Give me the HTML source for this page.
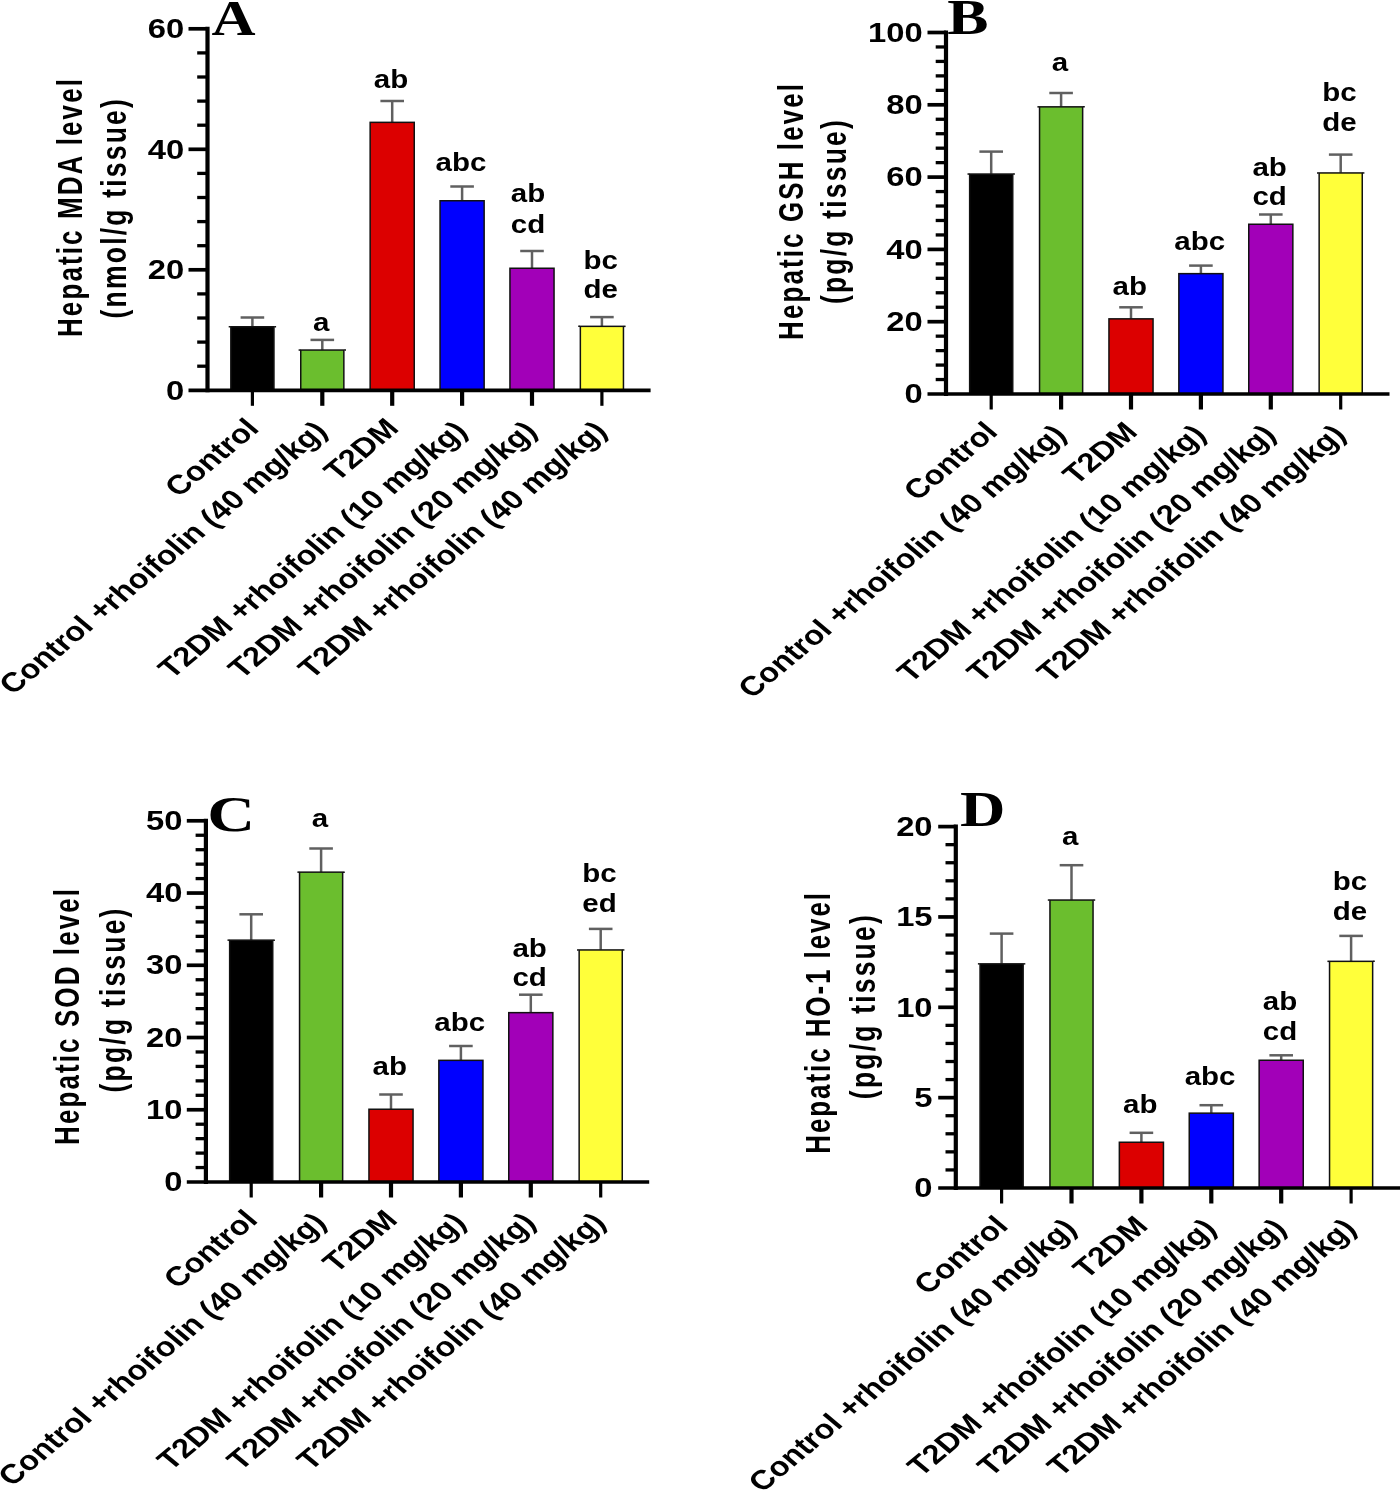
<!DOCTYPE html>
<html>
<head>
<meta charset="utf-8">
<title>Figure</title>
<style>
html, body { margin: 0; padding: 0; background: #ffffff; }
body { width: 1400px; height: 1492px; overflow: hidden; font-family: "Liberation Sans", sans-serif; }
svg { display: block; filter: blur(0.5px); }
text { font-family: "Liberation Sans", sans-serif; font-weight: bold; fill: #000; }
.axv { stroke: #000; stroke-width: 4.2; }
.axh { stroke: #000; stroke-width: 3.7; }
.axe { stroke: #000; stroke-width: 3.2; }
.mn { stroke: #000; stroke-width: 3.3; }
.eb { stroke: #606060; stroke-width: 2.5; }
.bar { stroke: #111; stroke-width: 1.5; }
.bt { stroke: #111; stroke-width: 1.5; }
.an { font-size: 25px; text-anchor: middle; }
.tk { font-size: 28.5px; text-anchor: end; }
.xl { font-size: 27.2px; text-anchor: end; }
.yt { font-size: 26px; letter-spacing: 2.1px; text-anchor: middle; }
.yt2 { font-size: 26.5px; letter-spacing: 2.2px; }
.lt { font-family: "Liberation Serif", serif; font-size: 52px; text-anchor: start; }
</style>
</head>
<body>
<svg width="1400" height="1492" viewBox="0 0 1400 1492">
<rect x="0" y="0" width="1400" height="1492" fill="#ffffff"/>
<g id="panelA">
<line x1="252.4" y1="317.5" x2="252.4" y2="326.6" class="eb"/>
<line x1="240.6" y1="317.5" x2="264.2" y2="317.5" class="eb"/>
<rect x="230.85" y="326.75" width="43.1" height="63.7" fill="#000000" class="bar"/>
<line x1="228.7" y1="326.75" x2="230.5" y2="326.75" class="bt"/>
<line x1="274.3" y1="326.75" x2="276.1" y2="326.75" class="bt"/>
<line x1="322.3" y1="339.9" x2="322.3" y2="349.9" class="eb"/>
<line x1="310.5" y1="339.9" x2="334.1" y2="339.9" class="eb"/>
<rect x="300.75" y="350.05" width="43.1" height="40.4" fill="#6BBE2E" class="bar"/>
<line x1="298.6" y1="350.05" x2="300.4" y2="350.05" class="bt"/>
<line x1="344.2" y1="350.05" x2="346" y2="350.05" class="bt"/>
<text transform="translate(321.1,331.2) scale(1.18,1)" class="an">a</text>
<line x1="392.2" y1="101" x2="392.2" y2="122.2" class="eb"/>
<line x1="380.4" y1="101" x2="404" y2="101" class="eb"/>
<rect x="370.15" y="122.35" width="44.1" height="268.1" fill="#DC0000" class="bar"/>
<text transform="translate(391,87.5) scale(1.18,1)" class="an">ab</text>
<line x1="462.1" y1="186.5" x2="462.1" y2="200.6" class="eb"/>
<line x1="450.3" y1="186.5" x2="473.9" y2="186.5" class="eb"/>
<rect x="440.05" y="200.75" width="44.1" height="189.7" fill="#0000FF" class="bar"/>
<text transform="translate(460.9,170.5) scale(1.18,1)" class="an">abc</text>
<line x1="532" y1="251" x2="532" y2="268.1" class="eb"/>
<line x1="520.2" y1="251" x2="543.8" y2="251" class="eb"/>
<rect x="509.95" y="268.25" width="44.1" height="122.2" fill="#A200B8" class="bar"/>
<text transform="translate(528,202.4) scale(1.18,1)" class="an">ab</text>
<text transform="translate(528,233.2) scale(1.18,1)" class="an">cd</text>
<line x1="601.9" y1="317.1" x2="601.9" y2="326.2" class="eb"/>
<line x1="590.1" y1="317.1" x2="613.7" y2="317.1" class="eb"/>
<rect x="580.35" y="326.35" width="43.1" height="64.1" fill="#FFFF3A" class="bar"/>
<line x1="578.2" y1="326.35" x2="580" y2="326.35" class="bt"/>
<line x1="623.8" y1="326.35" x2="625.6" y2="326.35" class="bt"/>
<text transform="translate(600.7,268.5) scale(1.18,1)" class="an">bc</text>
<text transform="translate(600.7,298.2) scale(1.18,1)" class="an">de</text>
<line x1="207.5" y1="26.8" x2="207.5" y2="392.3" class="axv"/>
<line x1="188.5" y1="390.3" x2="650.6" y2="390.3" class="axh"/>
<text transform="translate(184.2,399.5) scale(1.15,1)" class="tk">0</text>
<line x1="197.2" y1="366.2" x2="207.5" y2="366.2" class="mn"/>
<line x1="197.2" y1="342.1" x2="207.5" y2="342.1" class="mn"/>
<line x1="197.2" y1="318" x2="207.5" y2="318" class="mn"/>
<line x1="197.2" y1="293.9" x2="207.5" y2="293.9" class="mn"/>
<line x1="188.5" y1="269.8" x2="207.5" y2="269.8" class="axh"/>
<text transform="translate(184.2,279) scale(1.15,1)" class="tk">20</text>
<line x1="197.2" y1="245.7" x2="207.5" y2="245.7" class="mn"/>
<line x1="197.2" y1="221.6" x2="207.5" y2="221.6" class="mn"/>
<line x1="197.2" y1="197.5" x2="207.5" y2="197.5" class="mn"/>
<line x1="197.2" y1="173.4" x2="207.5" y2="173.4" class="mn"/>
<line x1="188.5" y1="149.3" x2="207.5" y2="149.3" class="axh"/>
<text transform="translate(184.2,158.5) scale(1.15,1)" class="tk">40</text>
<line x1="197.2" y1="125.2" x2="207.5" y2="125.2" class="mn"/>
<line x1="197.2" y1="101.1" x2="207.5" y2="101.1" class="mn"/>
<line x1="197.2" y1="77" x2="207.5" y2="77" class="mn"/>
<line x1="197.2" y1="52.9" x2="207.5" y2="52.9" class="mn"/>
<line x1="188.5" y1="28.8" x2="207.5" y2="28.8" class="axh"/>
<text transform="translate(184.2,38) scale(1.15,1)" class="tk">60</text>
<line x1="252.4" y1="390.3" x2="252.4" y2="405.8" class="axe"/>
<text transform="translate(260.4,429.8) scale(1.2,1) rotate(-45)" class="xl">Control</text>
<line x1="322.3" y1="390.3" x2="322.3" y2="405.8" class="axv"/>
<text transform="translate(328.8,432.5) scale(1.2,1) rotate(-45)" class="xl">Control +rhoifolin (40 mg/kg)</text>
<line x1="392.2" y1="390.3" x2="392.2" y2="405.8" class="axv"/>
<text transform="translate(400.2,429.8) scale(1.2,1) rotate(-45)" class="xl">T2DM</text>
<line x1="462.1" y1="390.3" x2="462.1" y2="405.8" class="axv"/>
<text transform="translate(468.6,432.5) scale(1.2,1) rotate(-45)" class="xl">T2DM +rhoifolin (10 mg/kg)</text>
<line x1="532" y1="390.3" x2="532" y2="405.8" class="axv"/>
<text transform="translate(538.5,432.5) scale(1.2,1) rotate(-45)" class="xl">T2DM +rhoifolin (20 mg/kg)</text>
<line x1="601.9" y1="390.3" x2="601.9" y2="405.8" class="axe"/>
<text transform="translate(608.4,432.5) scale(1.2,1) rotate(-45)" class="xl">T2DM +rhoifolin (40 mg/kg)</text>
<text transform="translate(211.4,34.5) scale(1.196,1)" class="lt" style="font-size:51px">A</text>
<text transform="translate(82.3,207) scale(1.33,1) rotate(-90)" class="yt">Hepatic MDA level</text>
<text transform="translate(125.8,207.7) scale(1.33,1) rotate(-90)" class="yt yt2">(nmol/g tissue)</text>
</g>
<g id="panelB">
<line x1="991.2" y1="151.6" x2="991.2" y2="173.9" class="eb"/>
<line x1="979.4" y1="151.6" x2="1003" y2="151.6" class="eb"/>
<rect x="969.65" y="174.05" width="43.1" height="220.1" fill="#000000" class="bar"/>
<line x1="967.5" y1="174.05" x2="969.3" y2="174.05" class="bt"/>
<line x1="1013.1" y1="174.05" x2="1014.9" y2="174.05" class="bt"/>
<line x1="1061.1" y1="93" x2="1061.1" y2="106.7" class="eb"/>
<line x1="1049.3" y1="93" x2="1072.9" y2="93" class="eb"/>
<rect x="1039.55" y="106.85" width="43.1" height="287.3" fill="#6BBE2E" class="bar"/>
<line x1="1037.4" y1="106.85" x2="1039.2" y2="106.85" class="bt"/>
<line x1="1083" y1="106.85" x2="1084.8" y2="106.85" class="bt"/>
<text transform="translate(1059.9,70.9) scale(1.18,1)" class="an">a</text>
<line x1="1131" y1="307.3" x2="1131" y2="318.7" class="eb"/>
<line x1="1119.2" y1="307.3" x2="1142.8" y2="307.3" class="eb"/>
<rect x="1108.95" y="318.85" width="44.1" height="75.3" fill="#DC0000" class="bar"/>
<text transform="translate(1129.8,294.7) scale(1.18,1)" class="an">ab</text>
<line x1="1200.9" y1="265.6" x2="1200.9" y2="273.5" class="eb"/>
<line x1="1189.1" y1="265.6" x2="1212.7" y2="265.6" class="eb"/>
<rect x="1178.85" y="273.65" width="44.1" height="120.5" fill="#0000FF" class="bar"/>
<text transform="translate(1199.7,250.3) scale(1.18,1)" class="an">abc</text>
<line x1="1270.8" y1="214.5" x2="1270.8" y2="224.1" class="eb"/>
<line x1="1259" y1="214.5" x2="1282.6" y2="214.5" class="eb"/>
<rect x="1248.75" y="224.25" width="44.1" height="169.9" fill="#A200B8" class="bar"/>
<text transform="translate(1269.6,175.8) scale(1.18,1)" class="an">ab</text>
<text transform="translate(1269.6,205.4) scale(1.18,1)" class="an">cd</text>
<line x1="1340.7" y1="154.6" x2="1340.7" y2="172.8" class="eb"/>
<line x1="1328.9" y1="154.6" x2="1352.5" y2="154.6" class="eb"/>
<rect x="1319.15" y="172.95" width="43.1" height="221.2" fill="#FFFF3A" class="bar"/>
<line x1="1317" y1="172.95" x2="1318.8" y2="172.95" class="bt"/>
<line x1="1362.6" y1="172.95" x2="1364.4" y2="172.95" class="bt"/>
<text transform="translate(1339.5,101) scale(1.18,1)" class="an">bc</text>
<text transform="translate(1339.5,130.6) scale(1.18,1)" class="an">de</text>
<line x1="946" y1="30.5" x2="946" y2="396" class="axv"/>
<line x1="927.5" y1="394" x2="1389.5" y2="394" class="axh"/>
<text transform="translate(922.8,403.2) scale(1.15,1)" class="tk">0</text>
<line x1="935.7" y1="379.54" x2="946" y2="379.54" class="mn"/>
<line x1="935.7" y1="365.08" x2="946" y2="365.08" class="mn"/>
<line x1="935.7" y1="350.62" x2="946" y2="350.62" class="mn"/>
<line x1="935.7" y1="336.16" x2="946" y2="336.16" class="mn"/>
<line x1="927.5" y1="321.7" x2="946" y2="321.7" class="axh"/>
<text transform="translate(922.8,330.9) scale(1.15,1)" class="tk">20</text>
<line x1="935.7" y1="307.24" x2="946" y2="307.24" class="mn"/>
<line x1="935.7" y1="292.78" x2="946" y2="292.78" class="mn"/>
<line x1="935.7" y1="278.32" x2="946" y2="278.32" class="mn"/>
<line x1="935.7" y1="263.86" x2="946" y2="263.86" class="mn"/>
<line x1="927.5" y1="249.4" x2="946" y2="249.4" class="axh"/>
<text transform="translate(922.8,258.6) scale(1.15,1)" class="tk">40</text>
<line x1="935.7" y1="234.94" x2="946" y2="234.94" class="mn"/>
<line x1="935.7" y1="220.48" x2="946" y2="220.48" class="mn"/>
<line x1="935.7" y1="206.02" x2="946" y2="206.02" class="mn"/>
<line x1="935.7" y1="191.56" x2="946" y2="191.56" class="mn"/>
<line x1="927.5" y1="177.1" x2="946" y2="177.1" class="axh"/>
<text transform="translate(922.8,186.3) scale(1.15,1)" class="tk">60</text>
<line x1="935.7" y1="162.64" x2="946" y2="162.64" class="mn"/>
<line x1="935.7" y1="148.18" x2="946" y2="148.18" class="mn"/>
<line x1="935.7" y1="133.72" x2="946" y2="133.72" class="mn"/>
<line x1="935.7" y1="119.26" x2="946" y2="119.26" class="mn"/>
<line x1="927.5" y1="104.8" x2="946" y2="104.8" class="axh"/>
<text transform="translate(922.8,114) scale(1.15,1)" class="tk">80</text>
<line x1="935.7" y1="90.34" x2="946" y2="90.34" class="mn"/>
<line x1="935.7" y1="75.88" x2="946" y2="75.88" class="mn"/>
<line x1="935.7" y1="61.42" x2="946" y2="61.42" class="mn"/>
<line x1="935.7" y1="46.96" x2="946" y2="46.96" class="mn"/>
<line x1="927.5" y1="32.5" x2="946" y2="32.5" class="axh"/>
<text transform="translate(922.8,41.7) scale(1.15,1)" class="tk">100</text>
<line x1="991.2" y1="394" x2="991.2" y2="409.5" class="axe"/>
<text transform="translate(999.2,433.5) scale(1.2,1) rotate(-45)" class="xl">Control</text>
<line x1="1061.1" y1="394" x2="1061.1" y2="409.5" class="axv"/>
<text transform="translate(1067.6,436.2) scale(1.2,1) rotate(-45)" class="xl">Control +rhoifolin (40 mg/kg)</text>
<line x1="1131" y1="394" x2="1131" y2="409.5" class="axv"/>
<text transform="translate(1139,433.5) scale(1.2,1) rotate(-45)" class="xl">T2DM</text>
<line x1="1200.9" y1="394" x2="1200.9" y2="409.5" class="axv"/>
<text transform="translate(1207.4,436.2) scale(1.2,1) rotate(-45)" class="xl">T2DM +rhoifolin (10 mg/kg)</text>
<line x1="1270.8" y1="394" x2="1270.8" y2="409.5" class="axv"/>
<text transform="translate(1277.3,436.2) scale(1.2,1) rotate(-45)" class="xl">T2DM +rhoifolin (20 mg/kg)</text>
<line x1="1340.7" y1="394" x2="1340.7" y2="409.5" class="axe"/>
<text transform="translate(1347.2,436.2) scale(1.2,1) rotate(-45)" class="xl">T2DM +rhoifolin (40 mg/kg)</text>
<text transform="translate(947.2,34.4) scale(1.2125,1)" class="lt" style="font-size:51px">B</text>
<text transform="translate(803,210.9) scale(1.33,1) rotate(-90)" class="yt">Hepatic GSH level</text>
<text transform="translate(846.2,211) scale(1.33,1) rotate(-90)" class="yt yt2">(pg/g tissue)</text>
</g>
<g id="panelC">
<line x1="251.2" y1="914.3" x2="251.2" y2="940" class="eb"/>
<line x1="239.4" y1="914.3" x2="263" y2="914.3" class="eb"/>
<rect x="229.65" y="940.15" width="43.1" height="242" fill="#000000" class="bar"/>
<line x1="227.5" y1="940.15" x2="229.3" y2="940.15" class="bt"/>
<line x1="273.1" y1="940.15" x2="274.9" y2="940.15" class="bt"/>
<line x1="321.1" y1="848.5" x2="321.1" y2="872" class="eb"/>
<line x1="309.3" y1="848.5" x2="332.9" y2="848.5" class="eb"/>
<rect x="299.55" y="872.15" width="43.1" height="310" fill="#6BBE2E" class="bar"/>
<line x1="297.4" y1="872.15" x2="299.2" y2="872.15" class="bt"/>
<line x1="343" y1="872.15" x2="344.8" y2="872.15" class="bt"/>
<text transform="translate(319.9,826.6) scale(1.18,1)" class="an">a</text>
<line x1="391" y1="1094.5" x2="391" y2="1109.1" class="eb"/>
<line x1="379.2" y1="1094.5" x2="402.8" y2="1094.5" class="eb"/>
<rect x="368.95" y="1109.25" width="44.1" height="72.9" fill="#DC0000" class="bar"/>
<text transform="translate(389.8,1075.2) scale(1.18,1)" class="an">ab</text>
<line x1="460.9" y1="1046" x2="460.9" y2="1060.2" class="eb"/>
<line x1="449.1" y1="1046" x2="472.7" y2="1046" class="eb"/>
<rect x="438.85" y="1060.35" width="44.1" height="121.8" fill="#0000FF" class="bar"/>
<text transform="translate(459.7,1031.2) scale(1.18,1)" class="an">abc</text>
<line x1="530.8" y1="994.7" x2="530.8" y2="1012.5" class="eb"/>
<line x1="519" y1="994.7" x2="542.6" y2="994.7" class="eb"/>
<rect x="508.75" y="1012.65" width="44.1" height="169.5" fill="#A200B8" class="bar"/>
<text transform="translate(529.6,956.7) scale(1.18,1)" class="an">ab</text>
<text transform="translate(529.6,986.3) scale(1.18,1)" class="an">cd</text>
<line x1="600.7" y1="928.9" x2="600.7" y2="949.8" class="eb"/>
<line x1="588.9" y1="928.9" x2="612.5" y2="928.9" class="eb"/>
<rect x="579.15" y="949.95" width="43.1" height="232.2" fill="#FFFF3A" class="bar"/>
<line x1="577" y1="949.95" x2="578.8" y2="949.95" class="bt"/>
<line x1="622.6" y1="949.95" x2="624.4" y2="949.95" class="bt"/>
<text transform="translate(599.5,881.9) scale(1.18,1)" class="an">bc</text>
<text transform="translate(599.5,912) scale(1.18,1)" class="an">ed</text>
<line x1="205.9" y1="818.8" x2="205.9" y2="1184" class="axv"/>
<line x1="186.8" y1="1182" x2="649.2" y2="1182" class="axh"/>
<text transform="translate(182.4,1191.2) scale(1.15,1)" class="tk">0</text>
<line x1="195.6" y1="1167.55" x2="205.9" y2="1167.55" class="mn"/>
<line x1="195.6" y1="1153.1" x2="205.9" y2="1153.1" class="mn"/>
<line x1="195.6" y1="1138.66" x2="205.9" y2="1138.66" class="mn"/>
<line x1="195.6" y1="1124.21" x2="205.9" y2="1124.21" class="mn"/>
<line x1="186.8" y1="1109.76" x2="205.9" y2="1109.76" class="axh"/>
<text transform="translate(182.4,1118.96) scale(1.15,1)" class="tk">10</text>
<line x1="195.6" y1="1095.31" x2="205.9" y2="1095.31" class="mn"/>
<line x1="195.6" y1="1080.86" x2="205.9" y2="1080.86" class="mn"/>
<line x1="195.6" y1="1066.42" x2="205.9" y2="1066.42" class="mn"/>
<line x1="195.6" y1="1051.97" x2="205.9" y2="1051.97" class="mn"/>
<line x1="186.8" y1="1037.52" x2="205.9" y2="1037.52" class="axh"/>
<text transform="translate(182.4,1046.72) scale(1.15,1)" class="tk">20</text>
<line x1="195.6" y1="1023.07" x2="205.9" y2="1023.07" class="mn"/>
<line x1="195.6" y1="1008.62" x2="205.9" y2="1008.62" class="mn"/>
<line x1="195.6" y1="994.18" x2="205.9" y2="994.18" class="mn"/>
<line x1="195.6" y1="979.73" x2="205.9" y2="979.73" class="mn"/>
<line x1="186.8" y1="965.28" x2="205.9" y2="965.28" class="axh"/>
<text transform="translate(182.4,974.48) scale(1.15,1)" class="tk">30</text>
<line x1="195.6" y1="950.83" x2="205.9" y2="950.83" class="mn"/>
<line x1="195.6" y1="936.38" x2="205.9" y2="936.38" class="mn"/>
<line x1="195.6" y1="921.94" x2="205.9" y2="921.94" class="mn"/>
<line x1="195.6" y1="907.49" x2="205.9" y2="907.49" class="mn"/>
<line x1="186.8" y1="893.04" x2="205.9" y2="893.04" class="axh"/>
<text transform="translate(182.4,902.24) scale(1.15,1)" class="tk">40</text>
<line x1="195.6" y1="878.59" x2="205.9" y2="878.59" class="mn"/>
<line x1="195.6" y1="864.14" x2="205.9" y2="864.14" class="mn"/>
<line x1="195.6" y1="849.7" x2="205.9" y2="849.7" class="mn"/>
<line x1="195.6" y1="835.25" x2="205.9" y2="835.25" class="mn"/>
<line x1="186.8" y1="820.8" x2="205.9" y2="820.8" class="axh"/>
<text transform="translate(182.4,830) scale(1.15,1)" class="tk">50</text>
<line x1="251.2" y1="1182" x2="251.2" y2="1197.5" class="axe"/>
<text transform="translate(259.2,1221.5) scale(1.2,1) rotate(-45)" class="xl">Control</text>
<line x1="321.1" y1="1182" x2="321.1" y2="1197.5" class="axv"/>
<text transform="translate(327.6,1224.2) scale(1.2,1) rotate(-45)" class="xl">Control +rhoifolin (40 mg/kg)</text>
<line x1="391" y1="1182" x2="391" y2="1197.5" class="axv"/>
<text transform="translate(399,1221.5) scale(1.2,1) rotate(-45)" class="xl">T2DM</text>
<line x1="460.9" y1="1182" x2="460.9" y2="1197.5" class="axv"/>
<text transform="translate(467.4,1224.2) scale(1.2,1) rotate(-45)" class="xl">T2DM +rhoifolin (10 mg/kg)</text>
<line x1="530.8" y1="1182" x2="530.8" y2="1197.5" class="axv"/>
<text transform="translate(537.3,1224.2) scale(1.2,1) rotate(-45)" class="xl">T2DM +rhoifolin (20 mg/kg)</text>
<line x1="600.7" y1="1182" x2="600.7" y2="1197.5" class="axe"/>
<text transform="translate(607.2,1224.2) scale(1.2,1) rotate(-45)" class="xl">T2DM +rhoifolin (40 mg/kg)</text>
<text transform="translate(207.3,831.3) scale(1.31,1)" class="lt" style="font-size:50.5px">C</text>
<text transform="translate(79.2,1015.9) scale(1.33,1) rotate(-90)" class="yt">Hepatic SOD level</text>
<text transform="translate(125,999.4) scale(1.33,1) rotate(-90)" class="yt yt2">(pg/g tissue)</text>
</g>
<g id="panelD">
<line x1="1001.6" y1="933.6" x2="1001.6" y2="963.7" class="eb"/>
<line x1="989.8" y1="933.6" x2="1013.4" y2="933.6" class="eb"/>
<rect x="980.05" y="963.85" width="43.1" height="224.3" fill="#000000" class="bar"/>
<line x1="977.9" y1="963.85" x2="979.7" y2="963.85" class="bt"/>
<line x1="1023.5" y1="963.85" x2="1025.3" y2="963.85" class="bt"/>
<line x1="1071.5" y1="865.2" x2="1071.5" y2="899.9" class="eb"/>
<line x1="1059.7" y1="865.2" x2="1083.3" y2="865.2" class="eb"/>
<rect x="1049.95" y="900.05" width="43.1" height="288.1" fill="#6BBE2E" class="bar"/>
<line x1="1047.8" y1="900.05" x2="1049.6" y2="900.05" class="bt"/>
<line x1="1093.4" y1="900.05" x2="1095.2" y2="900.05" class="bt"/>
<text transform="translate(1070.3,844.9) scale(1.18,1)" class="an">a</text>
<line x1="1141.4" y1="1132.8" x2="1141.4" y2="1142.1" class="eb"/>
<line x1="1129.6" y1="1132.8" x2="1153.2" y2="1132.8" class="eb"/>
<rect x="1119.35" y="1142.25" width="44.1" height="45.9" fill="#DC0000" class="bar"/>
<text transform="translate(1140.2,1112.5) scale(1.18,1)" class="an">ab</text>
<line x1="1211.3" y1="1105.2" x2="1211.3" y2="1113" class="eb"/>
<line x1="1199.5" y1="1105.2" x2="1223.1" y2="1105.2" class="eb"/>
<rect x="1189.25" y="1113.15" width="44.1" height="75" fill="#0000FF" class="bar"/>
<text transform="translate(1210.1,1085.2) scale(1.18,1)" class="an">abc</text>
<line x1="1281.2" y1="1055.3" x2="1281.2" y2="1060.1" class="eb"/>
<line x1="1269.4" y1="1055.3" x2="1293" y2="1055.3" class="eb"/>
<rect x="1259.15" y="1060.25" width="44.1" height="127.9" fill="#A200B8" class="bar"/>
<text transform="translate(1280,1010.4) scale(1.18,1)" class="an">ab</text>
<text transform="translate(1280,1040) scale(1.18,1)" class="an">cd</text>
<line x1="1351.1" y1="935.9" x2="1351.1" y2="961.2" class="eb"/>
<line x1="1339.3" y1="935.9" x2="1362.9" y2="935.9" class="eb"/>
<rect x="1329.55" y="961.35" width="43.1" height="226.8" fill="#FFFF3A" class="bar"/>
<line x1="1327.4" y1="961.35" x2="1329.2" y2="961.35" class="bt"/>
<line x1="1373" y1="961.35" x2="1374.8" y2="961.35" class="bt"/>
<text transform="translate(1349.9,889.6) scale(1.18,1)" class="an">bc</text>
<text transform="translate(1349.9,919.7) scale(1.18,1)" class="an">de</text>
<line x1="955.8" y1="824.6" x2="955.8" y2="1190" class="axv"/>
<line x1="938.2" y1="1188" x2="1400" y2="1188" class="axh"/>
<text transform="translate(932.6,1197.2) scale(1.15,1)" class="tk">0</text>
<line x1="945.5" y1="1169.93" x2="955.8" y2="1169.93" class="mn"/>
<line x1="945.5" y1="1151.86" x2="955.8" y2="1151.86" class="mn"/>
<line x1="945.5" y1="1133.79" x2="955.8" y2="1133.79" class="mn"/>
<line x1="945.5" y1="1115.72" x2="955.8" y2="1115.72" class="mn"/>
<line x1="938.2" y1="1097.65" x2="955.8" y2="1097.65" class="axh"/>
<text transform="translate(932.6,1106.85) scale(1.15,1)" class="tk">5</text>
<line x1="945.5" y1="1079.58" x2="955.8" y2="1079.58" class="mn"/>
<line x1="945.5" y1="1061.51" x2="955.8" y2="1061.51" class="mn"/>
<line x1="945.5" y1="1043.44" x2="955.8" y2="1043.44" class="mn"/>
<line x1="945.5" y1="1025.37" x2="955.8" y2="1025.37" class="mn"/>
<line x1="938.2" y1="1007.3" x2="955.8" y2="1007.3" class="axh"/>
<text transform="translate(932.6,1016.5) scale(1.15,1)" class="tk">10</text>
<line x1="945.5" y1="989.23" x2="955.8" y2="989.23" class="mn"/>
<line x1="945.5" y1="971.16" x2="955.8" y2="971.16" class="mn"/>
<line x1="945.5" y1="953.09" x2="955.8" y2="953.09" class="mn"/>
<line x1="945.5" y1="935.02" x2="955.8" y2="935.02" class="mn"/>
<line x1="938.2" y1="916.95" x2="955.8" y2="916.95" class="axh"/>
<text transform="translate(932.6,926.15) scale(1.15,1)" class="tk">15</text>
<line x1="945.5" y1="898.88" x2="955.8" y2="898.88" class="mn"/>
<line x1="945.5" y1="880.81" x2="955.8" y2="880.81" class="mn"/>
<line x1="945.5" y1="862.74" x2="955.8" y2="862.74" class="mn"/>
<line x1="945.5" y1="844.67" x2="955.8" y2="844.67" class="mn"/>
<line x1="938.2" y1="826.6" x2="955.8" y2="826.6" class="axh"/>
<text transform="translate(932.6,835.8) scale(1.15,1)" class="tk">20</text>
<line x1="1001.6" y1="1188" x2="1001.6" y2="1203.5" class="axe"/>
<text transform="translate(1009.6,1227.5) scale(1.2,1) rotate(-45)" class="xl">Control</text>
<line x1="1071.5" y1="1188" x2="1071.5" y2="1203.5" class="axv"/>
<text transform="translate(1078,1230.2) scale(1.2,1) rotate(-45)" class="xl">Control +rhoifolin (40 mg/kg)</text>
<line x1="1141.4" y1="1188" x2="1141.4" y2="1203.5" class="axv"/>
<text transform="translate(1149.4,1227.5) scale(1.2,1) rotate(-45)" class="xl">T2DM</text>
<line x1="1211.3" y1="1188" x2="1211.3" y2="1203.5" class="axv"/>
<text transform="translate(1217.8,1230.2) scale(1.2,1) rotate(-45)" class="xl">T2DM +rhoifolin (10 mg/kg)</text>
<line x1="1281.2" y1="1188" x2="1281.2" y2="1203.5" class="axv"/>
<text transform="translate(1287.7,1230.2) scale(1.2,1) rotate(-45)" class="xl">T2DM +rhoifolin (20 mg/kg)</text>
<line x1="1351.1" y1="1188" x2="1351.1" y2="1203.5" class="axe"/>
<text transform="translate(1357.6,1230.2) scale(1.2,1) rotate(-45)" class="xl">T2DM +rhoifolin (40 mg/kg)</text>
<text transform="translate(960.1,826.2) scale(1.245,1)" class="lt" style="font-size:50.5px">D</text>
<text transform="translate(830,1022.4) scale(1.33,1) rotate(-90)" class="yt" style="letter-spacing:1.92px">Hepatic HO-1 level</text>
<text transform="translate(874.6,1006.1) scale(1.33,1) rotate(-90)" class="yt yt2">(pg/g tissue)</text>
</g>
</svg>
</body>
</html>
